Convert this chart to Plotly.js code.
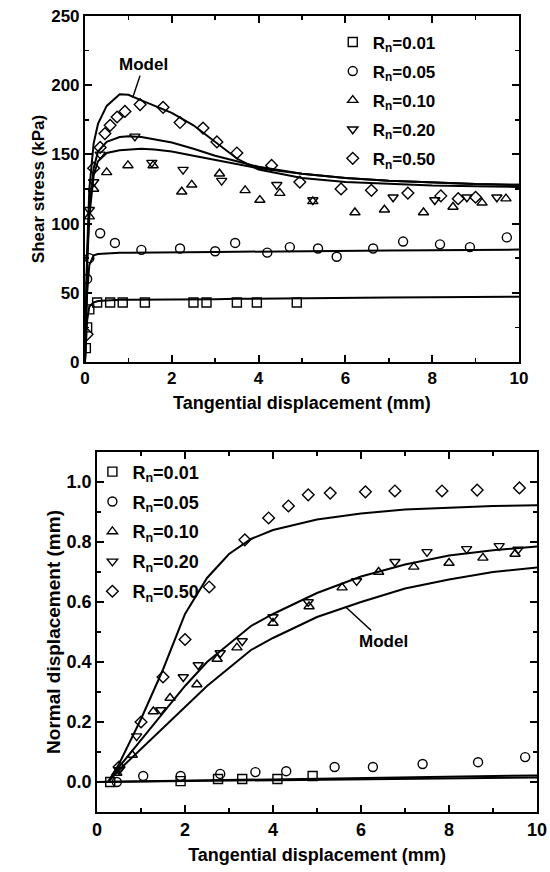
<!DOCTYPE html>
<html>
<head>
<meta charset="utf-8">
<script src="https://cdn.plot.ly/plotly-3.0.1.min.js"></script>
<style>html,body{margin:0;padding:0;background:#fff;}#chart{width:550px;height:872px;}</style>
</head>
<body>
<div id="chart"></div>
<script>
// ---------- Top panel: shear stress ----------
const seriesNames = ["R<sub>n</sub>=0.01", "R<sub>n</sub>=0.05", "R<sub>n</sub>=0.10", "R<sub>n</sub>=0.20", "R<sub>n</sub>=0.50"];
const symbols = ["square-open", "circle-open", "triangle-up-open", "triangle-down-open", "diamond-open"];

const topModelX = [0, 0.05, 0.1, 0.2, 0.3, 0.5, 0.8, 1.0, 1.3, 1.6, 2, 2.5, 3, 3.5, 4, 5, 6, 7, 8, 9, 10];
const topModel001 = [0, 30, 40, 43, 44, 44.5, 45, 45, 45, 45, 45, 45.2, 45.4, 45.6, 45.8, 46, 46.3, 46.6, 46.8, 47, 47.2];
const topModel005 = [0, 50, 70, 77, 78, 78.5, 79, 79, 79, 79, 79, 79.2, 79.4, 79.6, 79.8, 80, 80.3, 80.6, 80.8, 81, 81.2];
const topModel010 = [0, 70, 105, 135, 145, 151, 153, 153.5, 154, 153.5, 152, 149, 146, 143, 140, 136, 133, 131, 129.5, 128.5, 128];
const topModel020 = [0, 75, 110, 140, 152, 159, 162.5, 163, 162.5, 161, 158.5, 154, 149, 145, 141, 136, 133, 131, 129.5, 128.5, 128];
const topModel050 = [0, 80, 125, 158, 172, 185, 193.5, 193, 189, 185, 180, 171, 159, 147, 139, 133, 130, 128.5, 127.5, 127, 126.5];

const top001X = [0.02, 0.05, 0.1, 0.28, 0.58, 0.87, 1.38, 2.5, 2.8, 3.5, 3.96, 4.88];
const top001Y = [10, 25, 38, 43, 43, 43, 43, 43, 43, 43, 43, 43];
const top005X = [0.05, 0.1, 0.35, 0.69, 1.3, 2.19, 3.0, 3.46, 4.2, 4.72, 5.37, 5.8, 6.64, 7.33, 8.18, 8.87, 9.72];
const top005Y = [60, 75, 93, 86, 81, 82, 80, 86, 79, 83, 82, 76, 82, 87, 85, 83, 90];
const top010X = [0.1, 0.2, 0.5, 0.99, 1.57, 2.23, 2.46, 3.1, 3.69, 4.03, 4.49, 5.25, 6.22, 6.9, 7.8, 8.48, 9.15, 9.7];
const top010Y = [105, 125, 137, 142, 142, 123, 128, 136, 124, 117, 122, 116, 108, 110, 108, 112, 115, 118];
const top020X = [0.1, 0.2, 0.35, 1.15, 1.54, 2.26, 3.15, 4.42, 5.25, 7.1, 8.06, 8.8, 9.49];
const top020Y = [110, 130, 150, 163, 144, 139, 131, 128, 117, 119, 117, 119, 119];
const top050X = [0.05, 0.2, 0.35, 0.46, 0.58, 0.74, 0.92, 1.27, 1.8, 2.19, 2.72, 3.04, 3.5, 4.3, 4.95, 5.9, 6.6, 7.44, 8.2, 8.6, 9.0];
const top050Y = [20, 140, 155, 165, 171, 177, 181, 186, 184, 173, 169, 159, 151, 142, 130, 125, 124, 122, 120, 118, 119];

// ---------- Bottom panel: normal displacement ----------
const botModelX = [0, 0.25, 0.5, 1, 1.5, 2, 2.5, 3, 3.5, 4, 5, 6, 7, 8, 9, 10];
const botModelLow = [0, 0, 0.04, 0.11, 0.18, 0.25, 0.32, 0.38, 0.44, 0.48, 0.55, 0.60, 0.645, 0.675, 0.70, 0.715];
const botModelMid = [0, 0, 0.05, 0.14, 0.23, 0.32, 0.40, 0.46, 0.52, 0.56, 0.63, 0.685, 0.725, 0.755, 0.772, 0.785];
const botModelHigh = [0, 0, 0.06, 0.21, 0.375, 0.56, 0.68, 0.76, 0.81, 0.84, 0.875, 0.895, 0.908, 0.915, 0.92, 0.922];
const botFlatX = [0, 10];
const botFlat001 = [0, 0.015];
const botFlat005 = [0, 0.022];

const bot001X = [0.3, 1.9, 2.75, 3.3, 4.1, 4.9];
const bot001Y = [0.0, 0.003, 0.01, 0.01, 0.01, 0.02];
const bot005X = [0.45, 1.05, 1.9, 2.8, 3.6, 4.3, 5.4, 6.27, 7.4, 8.66, 9.73];
const bot005Y = [0.0, 0.02, 0.02, 0.027, 0.033, 0.036, 0.05, 0.05, 0.06, 0.066, 0.083];
const bot010X = [0.45, 0.8, 1.28, 1.66, 2.27, 2.73, 3.18, 4.0, 4.82, 5.57, 6.4, 7.2, 8.0, 8.77, 9.5];
const bot010Y = [0.03, 0.09, 0.235, 0.28, 0.325, 0.41, 0.448, 0.53, 0.585, 0.648, 0.70, 0.717, 0.73, 0.747, 0.76];
const bot020X = [0.5, 0.9, 1.45, 1.96, 2.3, 2.8, 3.3, 4.0, 4.8, 5.9, 6.77, 7.5, 8.4, 9.14, 9.57];
const bot020Y = [0.04, 0.153, 0.24, 0.35, 0.39, 0.43, 0.47, 0.55, 0.60, 0.67, 0.734, 0.767, 0.777, 0.787, 0.775];
const bot050X = [0.5, 1.0, 1.5, 2.0, 2.55, 3.36, 3.9, 4.35, 4.8, 5.3, 6.1, 6.77, 7.84, 8.64, 9.6];
const bot050Y = [0.05, 0.2, 0.35, 0.475, 0.65, 0.807, 0.88, 0.92, 0.957, 0.963, 0.967, 0.97, 0.97, 0.973, 0.98];

const FONT = "Liberation Sans, Arial, Helvetica, sans-serif";
const lineStyle = {color: "#000", width: 2};

function modelTrace(x, y, xa, ya) {
  return {x: x, y: y, xaxis: xa, yaxis: ya, mode: "lines", line: lineStyle, showlegend: false, hoverinfo: "skip"};
}
function dataTrace(x, y, i, xa, ya, leg) {
  return {x: x, y: y, xaxis: xa, yaxis: ya, mode: "markers", name: seriesNames[i],
    legend: leg, legendgroup: leg + i,
    marker: {symbol: symbols[i], size: 9, color: "#000", line: {color: "#000", width: 1.4}}};
}

const traces = [
  modelTrace(topModelX, topModel001, "x", "y"),
  modelTrace(topModelX, topModel005, "x", "y"),
  modelTrace(topModelX, topModel010, "x", "y"),
  modelTrace(topModelX, topModel020, "x", "y"),
  modelTrace(topModelX, topModel050, "x", "y"),
  dataTrace(top001X, top001Y, 0, "x", "y", "legend"),
  dataTrace(top005X, top005Y, 1, "x", "y", "legend"),
  dataTrace(top010X, top010Y, 2, "x", "y", "legend"),
  dataTrace(top020X, top020Y, 3, "x", "y", "legend"),
  dataTrace(top050X, top050Y, 4, "x", "y", "legend"),
  modelTrace(botModelX, botModelLow, "x2", "y2"),
  modelTrace(botModelX, botModelMid, "x2", "y2"),
  modelTrace(botModelX, botModelHigh, "x2", "y2"),
  modelTrace(botFlatX, botFlat001, "x2", "y2"),
  modelTrace(botFlatX, botFlat005, "x2", "y2"),
  dataTrace(bot001X, bot001Y, 0, "x2", "y2", "legend2"),
  dataTrace(bot005X, bot005Y, 1, "x2", "y2", "legend2"),
  dataTrace(bot010X, bot010Y, 2, "x2", "y2", "legend2"),
  dataTrace(bot020X, bot020Y, 3, "x2", "y2", "legend2"),
  dataTrace(bot050X, bot050Y, 4, "x2", "y2", "legend2")
];

function f(size) { return {family: FONT, size: size, color: "#000", weight: "bold"}; }
function minorAx(dt) { return {ticks: "inside", ticklen: 4, tickwidth: 1.5, tickcolor: "#000", dtick: dt, showgrid: false}; }
function axis(extra) {
  return Object.assign({
    showline: true, linecolor: "#000", linewidth: 2, mirror: "ticks",
    ticks: "inside", ticklen: 7, tickwidth: 2, tickcolor: "#000",
    showgrid: false, zeroline: false, fixedrange: true
  }, extra);
}

const layout = {
  width: 550, height: 872,
  margin: {l: 0, r: 0, t: 0, b: 0},
  paper_bgcolor: "#fff", plot_bgcolor: "#fff",
  font: {family: FONT, color: "#000"},
  xaxis: axis({domain: [0.1545, 0.9436], range: [0, 10], dtick: 2, anchor: "y", minor: minorAx(1),
    tickfont: f(17), title: {text: "Tangential displacement (mm)", font: f(18), standoff: 9}}),
  yaxis: axis({domain: [0.5849, 0.9817], range: [0, 250], dtick: 50, anchor: "x", minor: minorAx(25),
    tickfont: f(17), title: {text: "Shear stress (kPa)", font: f(17), standoff: 2}}),
  xaxis2: axis({domain: [0.1764, 0.9764], range: [0, 10], dtick: 2, anchor: "y2", minor: minorAx(1),
    tickfont: f(18), title: {text: "Tangential displacement (mm)", font: f(18), standoff: 10}}),
  yaxis2: axis({domain: [0.0688, 0.4817], range: [-0.1, 1.1], dtick: 0.2, tick0: 0, tickformat: ".1f", anchor: "x2",
    minor: minorAx(0.1), tickfont: f(18), title: {text: "Normal displacement (mm)", font: f(19), standoff: 1}}),
  legend: {x: 0.605, y: 0.972, xanchor: "left", yanchor: "top", bgcolor: "rgba(0,0,0,0)",
    font: f(17), tracegroupgap: 4, itemwidth: 30},
  legend2: {x: 0.168, y: 0.48, xanchor: "left", yanchor: "top", bgcolor: "rgba(0,0,0,0)",
    font: f(18), tracegroupgap: 3.5, itemwidth: 30},
  annotations: [
    {x: 1.1, y: 191, xref: "x", yref: "y", text: "Model", showarrow: true, arrowhead: 0,
     arrowwidth: 1.5, arrowcolor: "#000", ax: 11, ay: -33, font: f(17)},
    {x: 5.64, y: 0.585, xref: "x2", yref: "y2", text: "Model", showarrow: true, arrowhead: 0,
     arrowwidth: 1.5, arrowcolor: "#000", ax: 38, ay: 35, font: f(17)}
  ]
};

Plotly.newPlot("chart", traces, layout, {staticPlot: true, displayModeBar: false});
</script>
</body>
</html>
